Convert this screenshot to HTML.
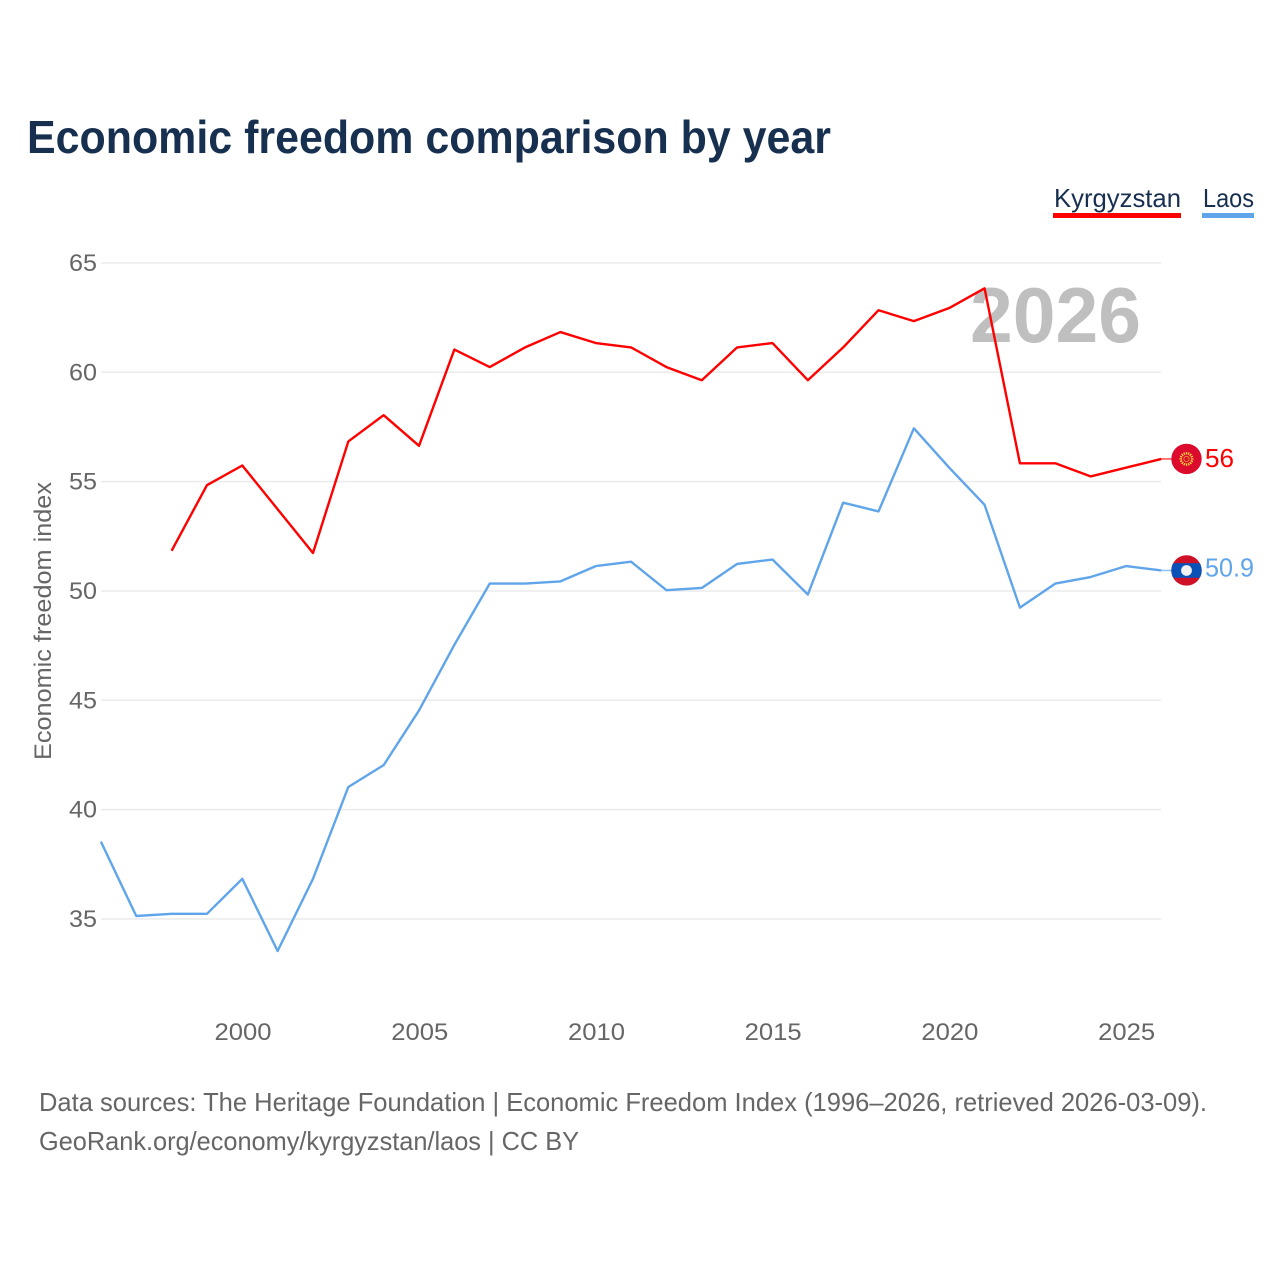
<!DOCTYPE html>
<html lang="en">
<head>
<meta charset="utf-8">
<title>Economic freedom comparison by year</title>
<style>
html,body{margin:0;padding:0;background:#fff;width:1280px;height:1280px;overflow:hidden}
svg{display:block}
text{font-family:"Liberation Sans",Arial,sans-serif}
</style>
</head>
<body>
<svg id="chart" xmlns="http://www.w3.org/2000/svg" width="1280" height="1280" viewBox="0 0 1280 1280">
  <defs>
    <clipPath id="laos-clip"><circle id="laos-clip-circle" cx="0" cy="0" r="15.2"/></clipPath>
  </defs>
  <rect x="0" y="0" width="1280" height="1280" fill="#ffffff"/>
  <text x="27" y="153" font-size="46" font-weight="700" fill="#18304f" textLength="804" lengthAdjust="spacingAndGlyphs">Economic freedom comparison by year</text>

  <g>
    <text x="1054" y="207" font-size="26" fill="#18304f" textLength="127" lengthAdjust="spacingAndGlyphs">Kyrgyzstan</text>
    <rect x="1053" y="213" width="128" height="5" fill="#ff0000"/>
  </g>
  <g>
    <text x="1203" y="207" font-size="26" fill="#18304f" textLength="51" lengthAdjust="spacingAndGlyphs">Laos</text>
    <rect x="1202" y="213" width="52" height="5" fill="#60a5ea"/>
  </g>

  <g id="grid"></g>
  <text x="970" y="342" font-size="78" font-weight="700" fill="#bfbfbf" textLength="171" lengthAdjust="spacingAndGlyphs">2026</text>
  <g id="y-ticks"></g>
  <g id="x-ticks"></g>
  <text transform="translate(51 621) rotate(-90)" text-anchor="middle" font-size="24" fill="#666666" textLength="278" lengthAdjust="spacingAndGlyphs">Economic freedom index</text>
  <g id="series"></g>

  <text x="39" y="1111" font-size="26" fill="#666666" textLength="1168" lengthAdjust="spacingAndGlyphs">Data sources: The Heritage Foundation | Economic Freedom Index (1996–2026, retrieved 2026-03-09).</text>
  <text x="39" y="1150" font-size="26" fill="#666666" textLength="540" lengthAdjust="spacingAndGlyphs">GeoRank.org/economy/kyrgyzstan/laos | CC BY</text>
</svg>
<script>
const years = [1996,1997,1998,1999,2000,2001,2002,2003,2004,2005,2006,2007,2008,2009,2010,2011,2012,2013,2014,2015,2016,2017,2018,2019,2020,2021,2022,2023,2024,2025,2026];
const laosValues = [38.5,35.1,35.2,35.2,36.8,33.5,36.8,41.0,42.0,44.5,47.5,50.3,50.3,50.4,51.1,51.3,50.0,50.1,51.2,51.4,49.8,54.0,53.6,57.4,55.6,53.9,49.2,50.3,50.6,51.1,50.9];
const kyrgyzstanValues = [null,null,51.8,54.8,55.7,53.7,51.7,56.8,58.0,56.6,61.0,60.2,61.1,61.8,61.3,61.1,60.2,59.6,61.1,61.3,59.6,61.1,62.8,62.3,62.9,63.8,55.8,55.8,55.2,55.6,56.0];
const yTickValues = [35,40,45,50,55,60,65];
const xTickValues = [2000,2005,2010,2015,2020,2025];

const NS = 'http://www.w3.org/2000/svg';
const xScale = y => 101.6 + (y - 1996) * (1162 - 101.6) / 30;
const yScale = v => 919 - (v - 35) * 21.87;
const lineX = y => xScale(y) - 0.7;
const lineY = v => yScale(v) - 0.8;

function make(tag, attrs, parent) {
  const el = document.createElementNS(NS, tag);
  for (const k in attrs) el.setAttribute(k, attrs[k]);
  parent.appendChild(el);
  return el;
}

const gridG = document.getElementById('grid');
const yG = document.getElementById('y-ticks');
yTickValues.forEach(v => {
  const line = make('line', {x1: 101, x2: 1161, y1: yScale(v), y2: yScale(v), stroke: '#ebebeb', 'stroke-width': 1.5}, gridG);
  
  
  const t = make('text', {x: 97, y: yScale(v) + 8, 'text-anchor': 'end', 'font-size': 24, fill: '#666666', textLength: 28, lengthAdjust: 'spacingAndGlyphs'}, yG);
  
  
  t.textContent = v;
});

const xG = document.getElementById('x-ticks');
xTickValues.forEach(y => {
  const t = make('text', {x: xScale(y), y: 1040, 'text-anchor': 'middle', 'font-size': 24, fill: '#666666', textLength: 57, lengthAdjust: 'spacingAndGlyphs'}, xG);
  
  
  t.textContent = y;
});

const seriesG = document.getElementById('series');
function linePath(values) {
  let d = '';
  values.forEach((v, i) => {
    if (v === null) return;
    d += (d ? 'L' : 'M') + lineX(years[i]).toFixed(2) + ' ' + lineY(v).toFixed(2);
  });
  return d;
}

const laosLine = make('path', {d: linePath(laosValues), fill: 'none', stroke: '#60a5ea', 'stroke-width': 2.4, 'stroke-linejoin': 'round'}, seriesG);


const kgLine = make('path', {d: linePath(kyrgyzstanValues), fill: 'none', stroke: '#ff0000', 'stroke-width': 2.4, 'stroke-linejoin': 'round'}, seriesG);



const flagX = 1186.5;
function endConnector(values, color) {
  const v = values[values.length - 1];
  const c = make('line', {x1: lineX(years[years.length - 1]), x2: flagX - 15, y1: lineY(v), y2: lineY(v), stroke: color, 'stroke-width': 1.5, opacity: 0.7}, seriesG);
  
  
}
endConnector(kyrgyzstanValues, '#ff0000');
endConnector(laosValues, '#60a5ea');

// Kyrgyzstan flag marker
const kgY = lineY(kyrgyzstanValues[kyrgyzstanValues.length - 1]);
const kgFlag = make('g', {}, seriesG);


make('circle', {cx: flagX, cy: kgY, r: 15.2, fill: '#dc0a2c'}, kgFlag);
for (let a = 0; a < 16; a++) {
  const r = a * Math.PI / 8;
  make('line', {x1: flagX + 4.5 * Math.cos(r), y1: kgY + 4.5 * Math.sin(r), x2: flagX + 7 * Math.cos(r), y2: kgY + 7 * Math.sin(r), stroke: '#ffd83d', 'stroke-width': 1.3}, kgFlag);
}
make('circle', {cx: flagX, cy: kgY, r: 2.6, fill: 'none', stroke: '#e8a030', 'stroke-width': 0.8}, kgFlag);

// Laos flag marker
const laY = lineY(laosValues[laosValues.length - 1]);
document.getElementById('laos-clip-circle').setAttribute('cx', flagX);
document.getElementById('laos-clip-circle').setAttribute('cy', laY);
const laFlag = make('g', {'clip-path': 'url(#laos-clip)'}, seriesG);


make('rect', {x: flagX - 16, y: laY - 16, width: 32, height: 32, fill: '#ce1126'}, laFlag);
make('rect', {x: flagX - 16, y: laY - 7.3, width: 32, height: 14.6, fill: '#0a52b8'}, laFlag);
make('circle', {cx: flagX, cy: laY, r: 5.4, fill: '#f2f2f2'}, laFlag);

// End value labels
const kgLabel = make('text', {x: 1205, y: kgY + 8, 'font-size': 26, fill: '#ff0000', textLength: 29, lengthAdjust: 'spacingAndGlyphs'}, seriesG);


kgLabel.textContent = kyrgyzstanValues[kyrgyzstanValues.length - 1];
const laLabel = make('text', {x: 1205, y: laY + 6, 'font-size': 26, fill: '#60a5ea', textLength: 49, lengthAdjust: 'spacingAndGlyphs'}, seriesG);


laLabel.textContent = laosValues[laosValues.length - 1];
</script>
</body>
</html>
